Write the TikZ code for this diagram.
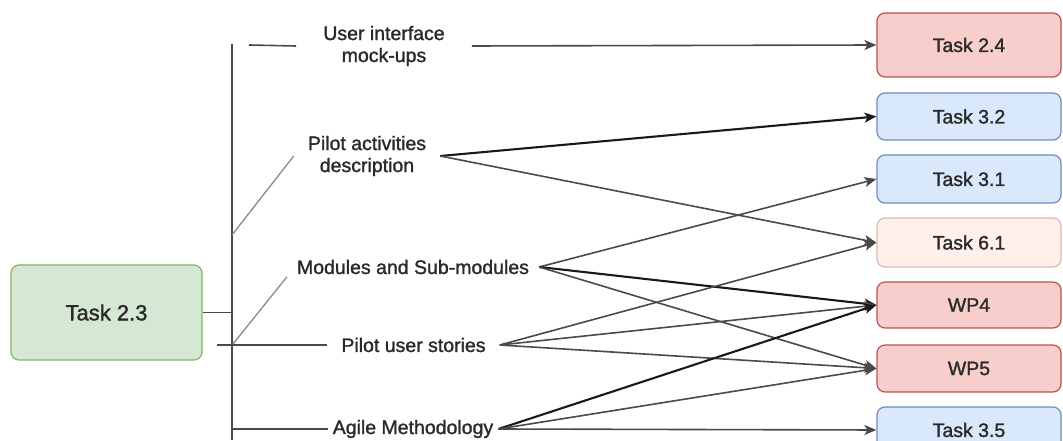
\documentclass[tikz,border=0pt]{standalone}
\usepackage{fontspec}
\setmainfont{Liberation Sans}
\newfontfamily\lblfont{Liberation Sans}[FakeBold=1.4]
\usetikzlibrary{arrows.meta}
\definecolor{gfill}{HTML}{D5E8D4}
\definecolor{gline}{HTML}{82B366}
\definecolor{rfill}{HTML}{F8CECC}
\definecolor{rline}{HTML}{B85450}
\definecolor{bfill}{HTML}{DAE8FC}
\definecolor{bline}{HTML}{6C8EBF}
\definecolor{pfill}{HTML}{FFF0EC}
\definecolor{pline}{HTML}{D9B8B2}
\definecolor{txt}{HTML}{2A2A2A}
\definecolor{trunkc}{HTML}{4A4A4A}
\definecolor{diagc}{HTML}{8A8A8A}
\definecolor{edgec}{HTML}{4A4A4A}
\begin{document}
\begin{tikzpicture}[x=1bp,y=-1bp,
  font=\lblfont\fontsize{19.5bp}{22bp}\selectfont, text=txt,
  box/.style={draw, rounded corners=8bp, line width=1.2bp, minimum width=184bp, inner sep=0pt},
  greenbox/.style={box, fill=gfill, draw=gline},
  redbox/.style={box, fill=rfill, draw=rline},
  bluebox/.style={box, fill=bfill, draw=bline},
  pinkbox/.style={box, fill=pfill, draw=pline},
  lbl/.style={align=center, inner ysep=0pt},
  trunk/.style={draw=trunkc, line width=1.6bp},
  diag/.style={draw=diagc, line width=1.3bp},
  conn/.style={draw=edgec, line width=1.6bp, -{Stealth[length=12bp,width=10bp,inset=3bp]}},
  darkconn/.style={conn, draw=black!90, line width=2.1bp}
]
\useasboundingbox (0,0) rectangle (1063,441);

% source
\node[greenbox, minimum width=191bp, minimum height=95bp, font=\lblfont\fontsize{22bp}{24bp}\selectfont] (t23) at (106.5,312.5) {Task 2.3};

% targets
\node[redbox, minimum height=64bp] (t24) at (969,45) {Task 2.4};
\node[bluebox, minimum height=47bp] (t32) at (969,116.5) {Task 3.2};
\node[bluebox, minimum height=48bp] (t31) at (969,179) {Task 3.1};
\node[pinkbox, minimum height=49bp] (t61) at (969,242.5) {Task 6.1};
\node[redbox, minimum height=46bp] (wp4) at (969,305) {WP4};
\node[redbox, minimum height=47bp] (wp5) at (969,368.5) {WP5};
\node[bluebox, minimum height=46bp] (t35) at (969,430) {Task 3.5};

% labels
\node[lbl, inner xsep=27bp] (ui) at (384,46) {User interface\\mock-ups};
\node[lbl, inner xsep=14bp] (pad) at (367,156) {Pilot activities\\description};
\node[lbl, inner xsep=10bp] (mod) at (413,267) {Modules and Sub-modules};
\node[lbl, inner xsep=14bp] (pus) at (413.5,345) {Pilot user stories};
\node[lbl, inner xsep=5bp] (agl) at (413,429) {Agile Methodology};

% trunk coordinates
\coordinate (trtop) at (232,44);
\coordinate (trbot) at (232,440);
\coordinate (trmid) at (232,312.5);
\coordinate (uistart) at (249,45);
\coordinate (padfoot) at (232,235);
\coordinate (modfoot) at (233,344);
\coordinate (pusstart) at (217,345);
\coordinate (aglfoot) at (232,429);

\draw[trunk] (trtop) -- (trbot);
\draw[trunk] (t23.east |- trmid) -- (trmid);
\draw[trunk] (uistart) -- (ui.west);
\draw[diag] (padfoot) -- (pad.west);
\draw[diag] (modfoot) -- ([yshift=-10bp]mod.west);
\draw[trunk] (pusstart) -- (pus.west);
\draw[trunk] (aglfoot) -- (agl.west);

% connectors
\draw[conn] (ui.east) -- (t24.west);
\draw[darkconn] (pad.east) -- (t32.west);
\draw[conn] (pad.east) -- (t61.west);
\draw[conn] (mod.east) -- (t31.west);
\draw[darkconn] (mod.east) -- (wp4.west);
\draw[conn] (mod.east) -- (wp5.west);
\draw[conn] (pus.east) -- (t61.west);
\draw[conn] (pus.east) -- (wp4.west);
\draw[conn] (pus.east) -- (wp5.west);
\draw[darkconn] (agl.east) -- (wp4.west);
\draw[conn] (agl.east) -- (wp5.west);
\draw[conn] (agl.east) -- (t35.west);
\end{tikzpicture}
\end{document}
